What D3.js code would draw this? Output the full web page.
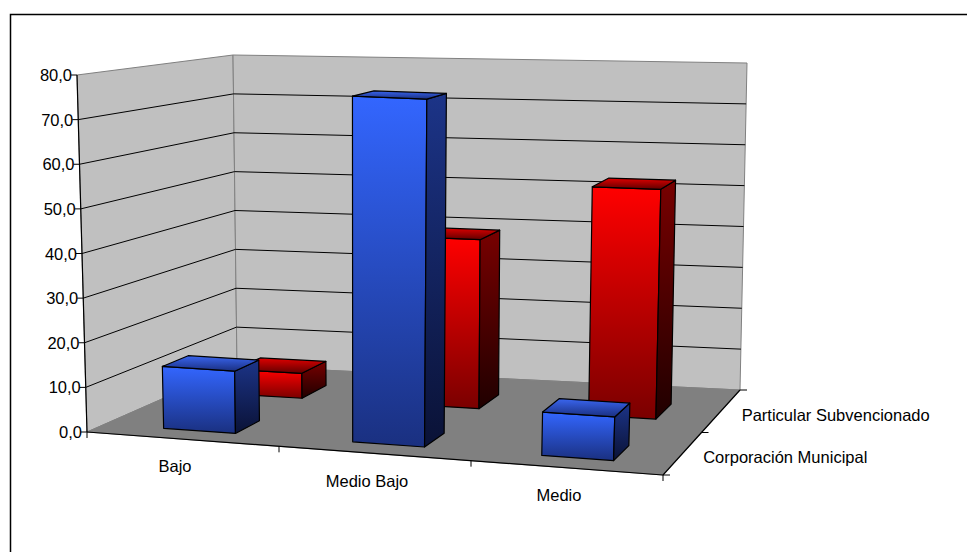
<!DOCTYPE html>
<html><head><meta charset="utf-8">
<script src="https://cdn.jsdelivr.net/npm/d3@7"></script>
<style>body{margin:0;background:#fff}svg{display:block;font-family:"Liberation Sans",Arial,sans-serif}</style>
</head><body>
<svg id="chart" width="967" height="552"></svg>
<script>
// data
var categories = ["Bajo", "Medio Bajo", "Medio"];
var seriesNames = ["Corporación Municipal", "Particular Subvencionado"];
var corporacion = [14.0, 77.0, 9.5];
var particular  = [6.0, 40.0, 53.5];
var yTicks = [0, 10, 20, 30, 40, 50, 60, 70, 80];

var svg = d3.select('#chart');

// 3D box corners on screen: front/back, left/right, bottom/top
var C = {
    FLb: [87, 432], FRb: [663, 475], BLb: [237, 366], BRb: [740, 390],
    FLt: [77, 75],  FRt: [675, 100], BLt: [233, 55],  BRt: [747, 63]
};

var xScale = d3.scaleBand().domain(categories).range([0, 1]);
var zScale = d3.scaleBand().domain(seriesNames).range([0.12, 0.80]).paddingInner(0.64);
var yScale = d3.scaleLinear().domain([0, 80]).range([0, 1]);

function lerp(a, b, t) { return [a[0] + (b[0] - a[0]) * t, a[1] + (b[1] - a[1]) * t]; }
// u: along categories, w: depth (0 front), v: height fraction
function proj(u, w, v) {
    var fb = lerp(C.FLb, C.FRb, u), bb = lerp(C.BLb, C.BRb, u);
    var ft = lerp(C.FLt, C.FRt, u), bt = lerp(C.BLt, C.BRt, u);
    var b = lerp(fb, bb, w), t = lerp(ft, bt, w);
    return lerp(b, t, v);
}
function poly(pts) { return "M" + pts.map(function(p) { return p.join(","); }).join("L") + "Z"; }

var defs = svg.append("defs");
function grad(id, c1, c2) {
    var g = defs.append("linearGradient").attr("id", id).attr("x1", 0).attr("y1", 0).attr("x2", 0).attr("y2", 1);
    g.append("stop").attr("offset", "0%").attr("stop-color", c1);
    g.append("stop").attr("offset", "100%").attr("stop-color", c2);
}
grad("bFront", "#3366ff", "#1a3080");
grad("bSide", "#1c3488", "#0a1236");
grad("bTop", "#3a66f0", "#1a2f80");
grad("rFront", "#ff0000", "#7a0000");
grad("rSide", "#780000", "#200000");
grad("rTop", "#e00000", "#600000");

// border
svg.append("rect").attr("x", 10.5).attr("y", 14.5).attr("width", 960).attr("height", 545)
    .attr("fill", "none").attr("stroke", "#000").attr("stroke-width", 1.5);

// walls and floor
svg.append("path").attr("d", poly([C.FLb, C.BLb, C.BLt, C.FLt])).attr("fill", "#c0c0c0").attr("stroke", "#808080");
svg.append("path").attr("d", poly([C.BLb, C.BRb, C.BRt, C.BLt])).attr("fill", "#c0c0c0").attr("stroke", "#808080");
svg.append("path").attr("d", poly([C.FLb, C.FRb, C.BRb, C.BLb])).attr("fill", "#808080").attr("stroke", "#808080");

// gridlines
yTicks.slice(1, -1).forEach(function(t) {
    var v = yScale(t);
    svg.append("path").attr("d", "M" + proj(0, 0, v) + "L" + proj(0, 1, v) + "L" + proj(1, 1, v))
        .attr("fill", "none").attr("stroke", "#000").attr("stroke-width", 1);
});

// bars
function drawBar(cat, ser, val, pre) {
    var u0 = xScale(cat) + xScale.bandwidth() * 0.31, u1 = xScale(cat) + xScale.bandwidth() * 0.69;
    var w0 = zScale(ser), w1 = zScale(ser) + zScale.bandwidth();
    var v = yScale(val);
    var g = svg.append("g").attr("stroke", "#000").attr("stroke-width", 1.2).attr("stroke-linejoin", "round");
    g.append("path").attr("d", poly([proj(u0, w0, 0), proj(u1, w0, 0), proj(u1, w0, v), proj(u0, w0, v)])).attr("fill", "url(#" + pre + "Front)");
    g.append("path").attr("d", poly([proj(u1, w0, 0), proj(u1, w1, 0), proj(u1, w1, v), proj(u1, w0, v)])).attr("fill", "url(#" + pre + "Side)");
    g.append("path").attr("d", poly([proj(u0, w0, v), proj(u1, w0, v), proj(u1, w1, v), proj(u0, w1, v)])).attr("fill", "url(#" + pre + "Top)");
}
categories.forEach(function(c, i) { drawBar(c, seriesNames[1], particular[i], "r"); });
categories.forEach(function(c, i) { drawBar(c, seriesNames[0], corporacion[i], "b"); });

// value axis
svg.append("path").attr("d", "M" + C.FLb + "L" + C.FLt).attr("stroke", "#000").attr("stroke-width", 1.2);
yTicks.forEach(function(t) {
    var p = proj(0, 0, yScale(t));
    svg.append("line").attr("x1", p[0] - 6).attr("y1", p[1]).attr("x2", p[0]).attr("y2", p[1]).attr("stroke", "#000");
    svg.append("text").attr("x", p[0] - 5).attr("y", p[1] + 6).attr("text-anchor", "end")
        .attr("font-size", 16.5).text(d3.format(".1f")(t).replace(".", ","));
});

// category axis
svg.append("path").attr("d", "M" + C.FLb + "L" + C.FRb).attr("stroke", "#000").attr("stroke-width", 1.2);
[0, 1 / 3, 2 / 3, 1].forEach(function(u) {
    var p = proj(u, 0, 0);
    svg.append("line").attr("x1", p[0]).attr("y1", p[1]).attr("x2", p[0]).attr("y2", p[1] + 6).attr("stroke", "#000");
});
categories.forEach(function(c) {
    var p = proj(xScale(c) + xScale.bandwidth() / 2, 0, 0);
    svg.append("text").attr("x", p[0] - 8).attr("y", p[1] + 33).attr("text-anchor", "middle").attr("font-size", 16.5).text(c);
});

// depth axis
svg.append("path").attr("d", "M" + C.FRb + "L" + C.BRb).attr("stroke", "#000").attr("stroke-width", 1.2);
[0, 0.5, 1].forEach(function(w) {
    var p = proj(1, w, 0);
    svg.append("line").attr("x1", p[0]).attr("y1", p[1]).attr("x2", p[0] + 7).attr("y2", p[1]).attr("stroke", "#000");
});
seriesNames.forEach(function(s) {
    var p = proj(1, zScale(s) + zScale.bandwidth() / 2, 0);
    svg.append("text").attr("x", p[0] + 24).attr("y", p[1] + 6).attr("font-size", 16.5).text(s);
});
</script>
</body></html>
